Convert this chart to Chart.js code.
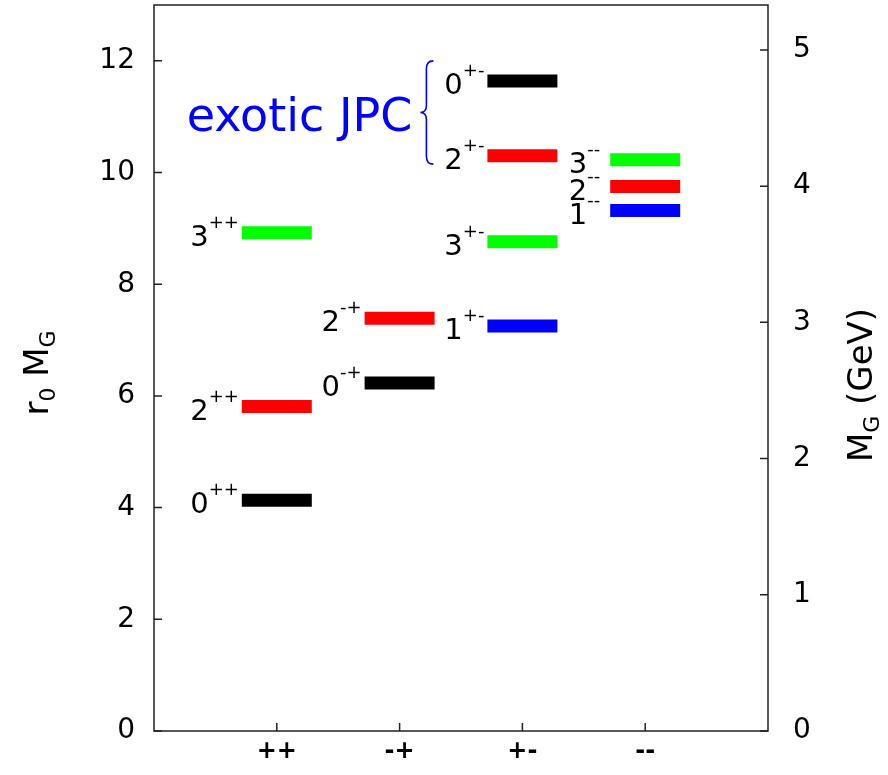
<!DOCTYPE html>
<html><head><meta charset="utf-8">
<script src="https://cdn.jsdelivr.net/npm/chart.js@4/dist/chart.umd.min.js"></script>
<style>html,body{margin:0;padding:0;background:#fff}#wrap{width:888px;height:775px}</style>
</head><body><div id="wrap"><canvas id="c" width="888" height="775"></canvas></div>
<script>
// ---- data ----
const categories = ['++', '-+', '+-', '--'];
const levelSpin  = [0, 2, 3,   0, 2,   1, 3, 2, 0,   1, 2, 3];
const levelCat   = [0, 0, 0,   1, 1,   2, 2, 2, 2,   3, 3, 3];
const levelR0MG  = [4.13, 5.81, 8.92,   6.23, 7.39,   7.25, 8.76, 10.30, 11.64,   9.32, 9.75, 10.23];
const leftTicks  = [0, 2, 4, 6, 8, 10, 12];
const rightTicks = [0, 1, 2, 3, 4, 5];
const r0InvGeV   = 0.41;          // 1/r0 in GeV
const exoticRange = [10.15, 12.0]; // r0 MG span of the "exotic JPC" brace
const exoticLabel = 'exotic JPC';

// ---- style ----
const FONT = 'DejaVu Sans';
const spinColor = {0: '#000000', 1: '#0000ff', 2: '#ff0000', 3: '#00ff00'};
const halfW = 0.285;

const datasets = levelR0MG.map((v, i) => ({
  data: [{x: levelCat[i] + 1 - halfW, y: v}, {x: levelCat[i] + 1 + halfW, y: v}],
  borderColor: spinColor[levelSpin[i]],
  backgroundColor: spinColor[levelSpin[i]],
  borderWidth: 13,
  borderCapStyle: 'butt',
  pointRadius: 0,
  showLine: true,
  fill: false,
  xAxisID: 'x', yAxisID: 'y'
}));

const noPad = s => { s.paddingTop = 0; s.paddingBottom = 0; s.paddingLeft = 0; s.paddingRight = 0; };

const decor = {
  id: 'decor',
  afterDatasetsDraw(chart) {
    const ctx = chart.ctx, a = chart.chartArea;
    const sx = chart.scales.x, sy = chart.scales.y, sy1 = chart.scales.y1;
    ctx.save();
    // frame
    ctx.strokeStyle = '#222'; ctx.lineWidth = 1.5;
    ctx.strokeRect(a.left, a.top, a.right - a.left, a.bottom - a.top);
    // inward ticks
    ctx.beginPath();
    leftTicks.forEach(v => { const y = sy.getPixelForValue(v); ctx.moveTo(a.left, y); ctx.lineTo(a.left + 8, y); });
    rightTicks.forEach(v => { const y = sy1.getPixelForValue(v); ctx.moveTo(a.right, y); ctx.lineTo(a.right - 8, y); });
    categories.forEach((c, i) => { const x = sx.getPixelForValue(i + 1); ctx.moveTo(x, a.bottom); ctx.lineTo(x, a.bottom - 8); });
    ctx.stroke();

    // level labels
    ctx.fillStyle = '#000'; ctx.textBaseline = 'alphabetic'; ctx.textAlign = 'left';
    levelR0MG.forEach((v, i) => {
      const yc = sy.getPixelForValue(v);
      const xs = sx.getPixelForValue(levelCat[i] + 1 - halfW);
      const gap = categories[levelCat[i]] === '--' ? 10 : 3;
      const sup = categories[levelCat[i]];
      const dig = String(levelSpin[i]);
      ctx.font = '18px "' + FONT + '"';
      const ws = ctx.measureText(sup).width;
      ctx.font = '29px "' + FONT + '"';
      const wd = ctx.measureText(dig).width;
      const R = xs - gap;
      ctx.fillText(dig, R - ws - wd, yc + 13);
      ctx.font = '18px "' + FONT + '"';
      ctx.fillText(sup, R - ws, yc - 5);
    });

    // exotic brace
    const xbar = sx.getPixelForValue(3 - halfW);
    const xsp = xbar - 61;
    const yT = sy.getPixelForValue(exoticRange[1]);
    const yB = sy.getPixelForValue(exoticRange[0]);
    const yM = (yT + yB) / 2;
    ctx.strokeStyle = '#0000ff'; ctx.lineWidth = 1.6;
    ctx.beginPath();
    ctx.moveTo(xsp + 7, yT);
    ctx.quadraticCurveTo(xsp, yT, xsp, yT + 8);
    ctx.lineTo(xsp, yM - 7);
    ctx.quadraticCurveTo(xsp, yM, xsp - 6, yM);
    ctx.quadraticCurveTo(xsp, yM, xsp, yM + 7);
    ctx.lineTo(xsp, yB - 8);
    ctx.quadraticCurveTo(xsp, yB, xsp + 7, yB);
    ctx.stroke();
    ctx.fillStyle = '#0000ff';
    ctx.font = '46px "' + FONT + '"';
    ctx.textAlign = 'right';
    ctx.fillText(exoticLabel, xsp - 14, yM + 18);

    // axis titles
    function rotTitle(cx, cy, parts) {
      ctx.save();
      ctx.translate(cx, cy); ctx.rotate(-Math.PI / 2);
      ctx.fillStyle = '#000'; ctx.textAlign = 'left';
      let W = 0;
      parts.forEach(p => { ctx.font = p.size + 'px "' + FONT + '"'; p.w = ctx.measureText(p.t).width; W += p.w; });
      let x = -W / 2;
      parts.forEach(p => { ctx.font = p.size + 'px "' + FONT + '"'; ctx.fillText(p.t, x, p.dy); x += p.w; });
      ctx.restore();
    }
    rotTitle(48, 373, [{t: 'r', size: 34, dy: 0}, {t: '0', size: 22, dy: 7}, {t: ' M', size: 34, dy: 0}, {t: 'G', size: 22, dy: 7}]);
    rotTitle(872, 385, [{t: 'M', size: 34, dy: 0}, {t: 'G', size: 22, dy: 7}, {t: ' (GeV)', size: 34, dy: 0}]);
    ctx.restore();
  }
};

Chart.defaults.font.family = FONT;
new Chart(document.getElementById('c'), {
  type: 'scatter',
  data: {datasets},
  options: {
    responsive: false, animation: false,
    layout: {padding: {top: 5, left: 0, right: 0, bottom: 0}},
    plugins: {legend: {display: false}, tooltip: {enabled: false}},
    scales: {
      x: {
        type: 'linear', position: 'bottom', min: 0, max: 5,
        afterBuildTicks: s => { s.ticks = categories.map((c, i) => ({value: i + 1})); },
        ticks: {callback: v => categories[v - 1], font: {family: FONT, size: 24, weight: 'bold', lineHeight: 1}, color: '#000', padding: 9, maxRotation: 0, autoSkip: false},
        grid: {display: false, drawTicks: false}, border: {display: false},
        afterFit: s => { s.height = 44; noPad(s); }
      },
      y: {
        type: 'linear', position: 'left', min: 0, max: 13,
        afterBuildTicks: s => { s.ticks = leftTicks.map(v => ({value: v})); },
        ticks: {font: {family: FONT, size: 28}, color: '#000', padding: 19},
        grid: {display: false, drawTicks: false}, border: {display: false},
        afterFit: s => { s.width = 154; noPad(s); }
      },
      y1: {
        type: 'linear', position: 'right', min: 0, max: 13 * r0InvGeV,
        afterBuildTicks: s => { s.ticks = rightTicks.map(v => ({value: v})); },
        ticks: {font: {family: FONT, size: 28}, color: '#000', padding: 25},
        grid: {display: false, drawTicks: false}, border: {display: false},
        afterFit: s => { s.width = 120; noPad(s); }
      }
    }
  },
  plugins: [decor]
});
</script>
</body></html>
